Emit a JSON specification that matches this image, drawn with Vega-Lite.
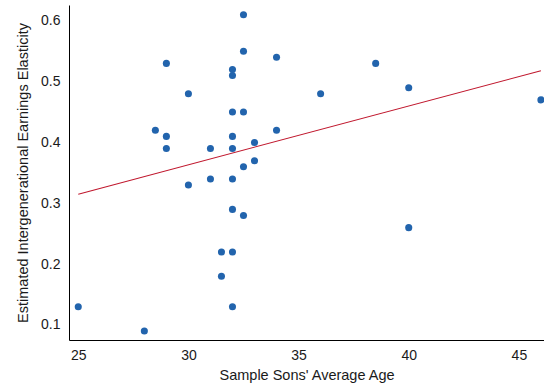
{
  "$schema": "https://vega.github.io/schema/vega-lite/v6.json",
  "autosize": {"type": "none"},
  "width": 475,
  "height": 335,
  "padding": {"left": 69, "top": 5, "right": 0, "bottom": 48},
  "background": "white",
  "config": {
    "view": {"stroke": null},
    "font": "Liberation Sans",
    "axis": {
      "grid": false,
      "ticks": false,
      "domainColor": "#000000",
      "domainWidth": 1,
      "labelFont": "Liberation Sans",
      "labelFontSize": 14,
      "labelColor": "#1a1a1a",
      "titleFont": "Liberation Sans",
      "titleFontSize": 14.5,
      "titleFontWeight": "normal",
      "titleColor": "#1a1a1a"
    }
  },
  "datasets": {
    "points": [
      {"age": 32.5, "ige": 0.61},
      {"age": 32.5, "ige": 0.55},
      {"age": 29, "ige": 0.53},
      {"age": 32, "ige": 0.52},
      {"age": 32, "ige": 0.51},
      {"age": 30, "ige": 0.48},
      {"age": 32, "ige": 0.45},
      {"age": 32.5, "ige": 0.45},
      {"age": 28.5, "ige": 0.42},
      {"age": 29, "ige": 0.41},
      {"age": 32, "ige": 0.41},
      {"age": 33, "ige": 0.40},
      {"age": 29, "ige": 0.39},
      {"age": 31, "ige": 0.39},
      {"age": 32, "ige": 0.39},
      {"age": 33, "ige": 0.37},
      {"age": 32.5, "ige": 0.36},
      {"age": 30, "ige": 0.33},
      {"age": 31, "ige": 0.34},
      {"age": 32, "ige": 0.34},
      {"age": 34, "ige": 0.54},
      {"age": 38.5, "ige": 0.53},
      {"age": 36, "ige": 0.48},
      {"age": 40, "ige": 0.49},
      {"age": 46, "ige": 0.47},
      {"age": 34, "ige": 0.42},
      {"age": 32, "ige": 0.29},
      {"age": 32.5, "ige": 0.28},
      {"age": 31.5, "ige": 0.22},
      {"age": 32, "ige": 0.22},
      {"age": 31.5, "ige": 0.18},
      {"age": 32, "ige": 0.13},
      {"age": 25, "ige": 0.13},
      {"age": 28, "ige": 0.09},
      {"age": 40, "ige": 0.26}
    ],
    "fit": [
      {"age": 25, "ige": 0.315},
      {"age": 46, "ige": 0.518}
    ]
  },
  "encoding": {
    "x": {
      "field": "age",
      "type": "quantitative",
      "scale": {"domain": [24.58, 46.14], "nice": false, "zero": false},
      "axis": {"title": "Sample Sons' Average Age", "values": [25, 30, 35, 40, 45], "labelPadding": 8, "titlePadding": 6}
    },
    "y": {
      "field": "ige",
      "type": "quantitative",
      "scale": {"domain": [0.0753, 0.626], "nice": false, "zero": false},
      "axis": {"title": "Estimated Intergenerational Earnings Elasticity", "values": [0.1, 0.2, 0.3, 0.4, 0.5, 0.6], "format": ".1f", "labelPadding": 9, "titlePadding": 10}
    }
  },
  "layer": [
    {
      "data": {"name": "fit"},
      "mark": {"type": "line", "color": "#c0172d", "strokeWidth": 1.1, "clip": true}
    },
    {
      "data": {"name": "points"},
      "mark": {"type": "circle", "color": "#2264ad", "opacity": 1, "size": 50}
    }
  ]
}
